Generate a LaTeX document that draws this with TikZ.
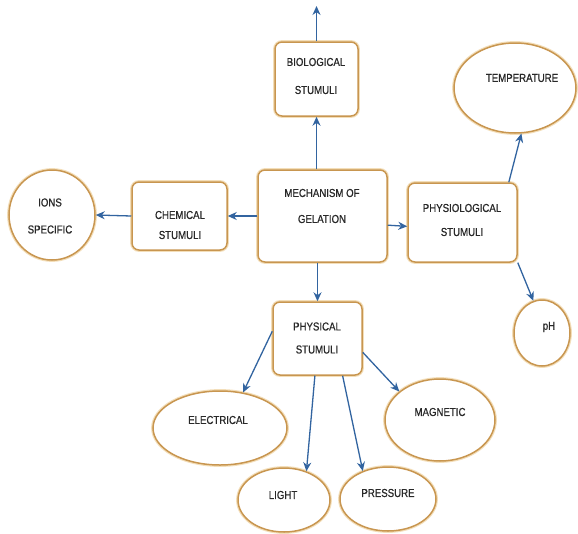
\documentclass[tikz,border=0pt]{standalone}
\usepackage{fontspec}
\newfontfamily\narrowfont{Liberation Sans}[FakeStretch=0.84,FakeBold=0.6]
\usetikzlibrary{arrows.meta,shapes.geometric}
\definecolor{boxc}{RGB}{200,150,80}
\definecolor{glow}{RGB}{243,222,185}
\definecolor{arrc}{RGB}{50,100,160}
\definecolor{txtc}{RGB}{40,40,40}
\begin{document}
\begin{tikzpicture}[x=1pt,y=-1pt,
 shp/.style={draw=boxc, line width=1.5pt, preaction={draw=glow,line width=3.8pt}, fill=white, inner sep=0pt},
 rbox/.style={shp, rectangle, rounded corners=7pt},
 oval/.style={shp, ellipse},
 lbl/.style={font=\narrowfont\fontsize{11.5}{26}\selectfont, text=txtc, align=center, inner sep=0pt},
 arr/.style={draw=arrc, line width=1.3pt, -{Stealth[length=9pt,width=8pt]}}]
\path[use as bounding box, fill=white] (0,0) rectangle (578,533);

% boxes
\node[rbox, minimum width=83pt, minimum height=74pt] (bio) at (316.5,79) {};
\node[rbox, minimum width=129pt, minimum height=92pt] (mech) at (322.5,216) {};
\node[rbox, minimum width=95pt, minimum height=68pt] (chem) at (179.5,216) {};
\node[rbox, minimum width=109pt, minimum height=79pt] (phys) at (462.5,222.5) {};
\node[rbox, minimum width=89pt, minimum height=73pt] (physical) at (317.5,338.5) {};

% ellipses
\node[oval, minimum width=86pt, minimum height=90pt] (ions) at (52,215) {};
\node[oval, minimum width=122pt, minimum height=90pt] (temp) at (515,88) {};
\node[oval, minimum width=56pt, minimum height=66pt] (ph) at (542,333) {};
\node[oval, minimum width=134pt, minimum height=74pt] (elec) at (220,428) {};
\node[oval, minimum width=110pt, minimum height=82pt] (mag) at (440,420) {};
\node[oval, minimum width=92pt, minimum height=64pt] (light) at (284,500) {};
\node[oval, minimum width=96pt, minimum height=64pt] (press) at (388,499) {};

% labels
\node[lbl, font=\narrowfont\fontsize{11.5}{28}\selectfont] (bioT) at (316,76) {BIOLOGICAL\\STUMULI};
\node[lbl] (mechT) at (322,206) {MECHANISM OF\\GELATION};
\node[lbl, font=\narrowfont\fontsize{11.5}{20}\selectfont] (chemT) at (180,225) {CHEMICAL\\STUMULI};
\node[lbl, font=\narrowfont\fontsize{11.5}{24}\selectfont] (physT) at (462,220) {PHYSIOLOGICAL\\STUMULI};
\node[lbl, font=\narrowfont\fontsize{11.5}{23}\selectfont] (physicalT) at (317,338) {PHYSICAL\\STUMULI};
\node[lbl, font=\narrowfont\fontsize{11.5}{27}\selectfont] (ionsT) at (50,216) {IONS\\SPECIFIC};
\node[lbl] (tempT) at (522,78) {TEMPERATURE};
\node[lbl] (phT) at (549,327) {pH};
\node[lbl] (elecT) at (218,420) {ELECTRICAL};
\node[lbl] (magT) at (440,412) {MAGNETIC};
\node[lbl] (lightT) at (283,495) {LIGHT};
\node[lbl] (pressT) at (388,493) {PRESSURE};

% connectors
\coordinate (topend) at (316.5,6);
\draw[arr] (bio.north) -- (topend);
\draw[arr] (bio.south |- mech.north) -- (bio.south);
\draw[arr] (mech.west) -- (chem.east);
\draw[arr] (chem.west) -- (ions.east);
\draw[arr] (mech.352) -- (phys.184);
\draw[arr] (phys.41) -- (temp.278);
\draw[arr] (phys.324) -- (ph.105);
\draw[arr] (physical.north |- mech.south) -- (physical.north);
\draw[arr] (physical.171) -- (elec.57);
\draw[arr] (physical.266) -- (light.52);
\draw[arr] (physical.304) -- (press.132);
\draw[arr] (physical.343) -- (mag.145);
\end{tikzpicture}
\end{document}
